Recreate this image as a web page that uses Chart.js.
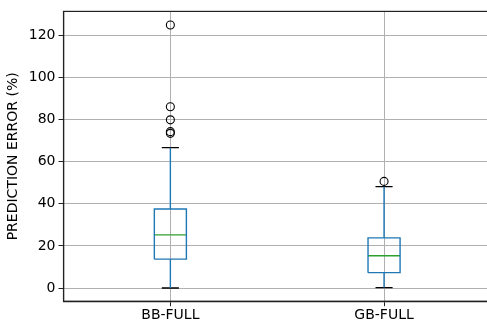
<!DOCTYPE html>
<html>
<head>
<meta charset="utf-8">
<script src="https://cdn.jsdelivr.net/npm/chart.js@4/dist/chart.umd.min.js"></script>
<style>
  body { margin: 0; overflow: hidden; background: #fff; }
  #wrap { width: 496px; height: 323px; }
</style>
</head>
<body>
<div id="wrap"><canvas id="my-chart"></canvas></div>
<script>
'use strict';

// ******** DATA *******
let categories = ['BB-FULL', 'GB-FULL'];
let q1 = [13.7, 7.3];
let median = [25.2, 15.3];
let q3 = [37.5, 23.8];
let whiskerLow = [0, 0.2];
let whiskerHigh = [66.6, 48.1];
let outliers = [[73.4, 74.2, 79.8, 86, 124.8], [50.6]];
let yTicks = [0, 20, 40, 60, 80, 100, 120];

// box geometry (in x units, categories sit at 1, 2, ...)
let boxHalf = 0.075;
let capHalf = 0.04;

let blue = '#1f77b4';
let green = '#2ca02c';
let lw = 1.4;

function seg(points, color) {
  return {
    type: 'line',
    data: points,
    borderColor: color,
    borderWidth: lw,
    pointRadius: 0,
    fill: false,
    tension: 0
  };
}

let datasets = [];
for (let i = 0; i < categories.length; i++) {
  let x = i + 1;
  // box
  datasets.push(seg([
    {x: x - boxHalf, y: q1[i]}, {x: x + boxHalf, y: q1[i]},
    {x: x + boxHalf, y: q3[i]}, {x: x - boxHalf, y: q3[i]},
    {x: x - boxHalf, y: q1[i]}
  ], blue));
  // whiskers
  datasets.push(seg([{x: x, y: q3[i]}, {x: x, y: whiskerHigh[i]}], blue));
  datasets.push(seg([{x: x, y: q1[i]}, {x: x, y: whiskerLow[i]}], blue));
  // caps
  datasets.push(seg([{x: x - capHalf, y: whiskerHigh[i]}, {x: x + capHalf, y: whiskerHigh[i]}], '#000'));
  datasets.push(seg([{x: x - capHalf, y: whiskerLow[i]}, {x: x + capHalf, y: whiskerLow[i]}], '#000'));
  // median
  datasets.push(seg([{x: x - boxHalf, y: median[i]}, {x: x + boxHalf, y: median[i]}], green));
  // fliers
  datasets.push({
    type: 'scatter',
    data: outliers[i].map(v => ({x: x, y: v})),
    pointRadius: 4,
    pointBorderColor: '#000',
    pointBackgroundColor: 'rgba(0,0,0,0)',
    pointBorderWidth: 1.1,
    showLine: false
  });
}

// frame around plot area
let framePlugin = {
  id: 'frame',
  afterDraw(chart) {
    let a = chart.chartArea;
    let c = chart.ctx;
    c.save();
    c.strokeStyle = '#222';
    c.lineWidth = 1.2;
    c.strokeRect(a.left, a.top, a.right - a.left, a.bottom - a.top);
    c.restore();
  }
};

let font = {family: 'DejaVu Sans', size: 14};

let ctx = document.getElementById('my-chart');
const myChart = new Chart(ctx, {
  type: 'line',
  data: {datasets: datasets},
  plugins: [framePlugin],
  options: {
    responsive: true,
    maintainAspectRatio: false,
    animation: false,
    layout: {padding: {top: 10, right: 0, bottom: -2, left: 5}},
    plugins: {legend: {display: false}, tooltip: {enabled: false}},
    scales: {
      x: {
        type: 'linear',
        min: 0.5,
        max: categories.length + 0.5,
        afterBuildTicks: axis => { axis.ticks = categories.map((c, i) => ({value: i + 1})); },
        ticks: {
          color: '#000',
          font: font,
          padding: 1,
          autoSkip: false,
          maxRotation: 0,
          callback: v => categories[Math.round(v) - 1]
        },
        grid: {color: '#b0b0b0', lineWidth: 1, tickColor: '#222', tickLength: 5},
        border: {color: '#222', width: 1.2}
      },
      y: {
        type: 'linear',
        min: -6.25,
        max: 131.25,
        afterBuildTicks: axis => { axis.ticks = yTicks.map(v => ({value: v})); },
        ticks: {color: '#000', font: font, padding: 3},
        grid: {color: '#b0b0b0', lineWidth: 1, tickColor: '#222', tickLength: 5},
        border: {color: '#222', width: 1.2},
        title: {display: true, text: 'PREDICTION ERROR (%)', color: '#000', font: font, padding: {top: 0, bottom: 4}}
      }
    }
  }
});
</script>
</body>
</html>
